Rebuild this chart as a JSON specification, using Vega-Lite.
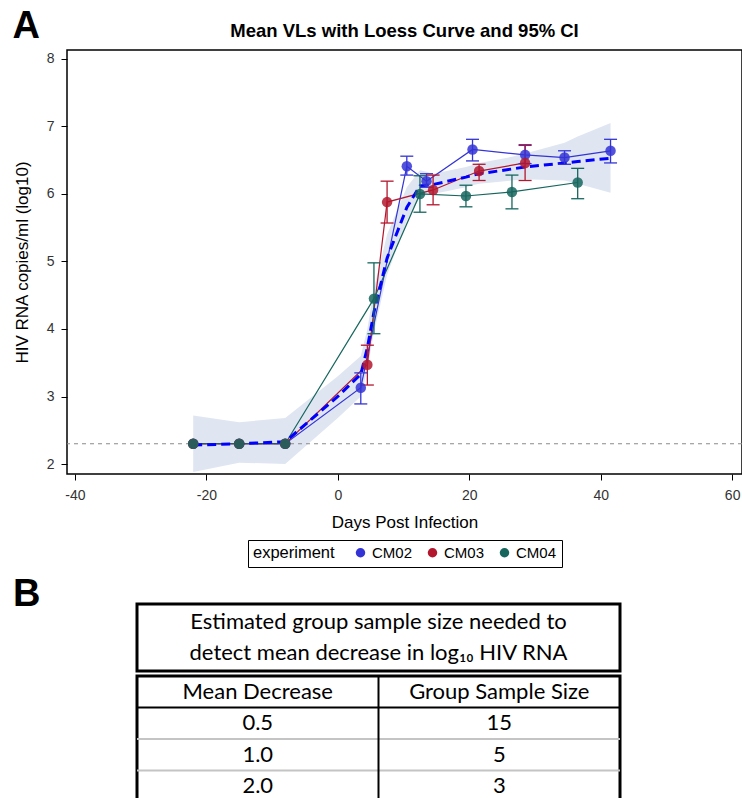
{
  "$schema": "https://vega.github.io/schema/vega-lite/v6.json",
  "padding": {"left": 12, "top": 7, "right": 0, "bottom": 0},
  "title": {"text": "A", "anchor": "start", "frame": "bounds", "fontSize": 38, "fontWeight": "bold", "font": "Liberation Sans", "baseline": "alphabetic", "offset": -55, "color": "black"},
  "datasets": {
    "series": [
      {"experiment": "CM02", "day": -22, "mean": 2.3},
      {"experiment": "CM02", "day": -15, "mean": 2.3},
      {"experiment": "CM02", "day": -8, "mean": 2.3},
      {"experiment": "CM02", "day": 3.5, "mean": 3.13, "lo": 2.89, "hi": 3.35},
      {"experiment": "CM02", "day": 10.5, "mean": 6.41, "lo": 6.28, "hi": 6.56},
      {"experiment": "CM02", "day": 13.5, "mean": 6.19, "lo": 6.1, "hi": 6.3},
      {"experiment": "CM02", "day": 20.5, "mean": 6.66, "lo": 6.49, "hi": 6.81},
      {"experiment": "CM02", "day": 28.5, "mean": 6.58, "lo": 6.45, "hi": 6.72},
      {"experiment": "CM02", "day": 34.5, "mean": 6.54, "lo": 6.44, "hi": 6.64},
      {"experiment": "CM02", "day": 41.5, "mean": 6.64, "lo": 6.46, "hi": 6.81},
      {"experiment": "CM03", "day": -22, "mean": 2.3},
      {"experiment": "CM03", "day": -15, "mean": 2.3},
      {"experiment": "CM03", "day": -8, "mean": 2.3},
      {"experiment": "CM03", "day": 4.5, "mean": 3.47, "lo": 3.17, "hi": 3.76},
      {"experiment": "CM03", "day": 7.5, "mean": 5.88, "lo": 5.57, "hi": 6.19},
      {"experiment": "CM03", "day": 14.5, "mean": 6.06, "lo": 5.84, "hi": 6.28},
      {"experiment": "CM03", "day": 21.5, "mean": 6.34, "lo": 6.2, "hi": 6.44},
      {"experiment": "CM03", "day": 28.5, "mean": 6.46, "lo": 6.2, "hi": 6.73},
      {"experiment": "CM04", "day": -22, "mean": 2.3},
      {"experiment": "CM04", "day": -15, "mean": 2.3},
      {"experiment": "CM04", "day": -8, "mean": 2.3},
      {"experiment": "CM04", "day": 5.5, "mean": 4.45, "lo": 3.93, "hi": 4.98},
      {"experiment": "CM04", "day": 12.5, "mean": 6.0, "lo": 5.73, "hi": 6.27},
      {"experiment": "CM04", "day": 19.5, "mean": 5.97, "lo": 5.81, "hi": 6.13},
      {"experiment": "CM04", "day": 26.5, "mean": 6.03, "lo": 5.78, "hi": 6.28},
      {"experiment": "CM04", "day": 36.5, "mean": 6.17, "lo": 5.93, "hi": 6.38}
    ],
    "loess": [
      {"day": -22, "fit": 2.28, "lo": 1.88, "hi": 2.72},
      {"day": -15, "fit": 2.3, "lo": 2.02, "hi": 2.62},
      {"day": -8, "fit": 2.33, "lo": 2.0, "hi": 2.68},
      {"day": 0, "fit": 3.0, "lo": 2.68, "hi": 3.3},
      {"day": 3.5, "fit": 3.33, "lo": 3.0, "hi": 3.6},
      {"day": 4.5, "fit": 3.72, "lo": 3.4, "hi": 4.0},
      {"day": 5.5, "fit": 4.25, "lo": 3.95, "hi": 4.6},
      {"day": 7.5, "fit": 5.05, "lo": 4.8, "hi": 5.4},
      {"day": 10.5, "fit": 5.8, "lo": 5.6, "hi": 6.1},
      {"day": 12.5, "fit": 6.12, "lo": 5.95, "hi": 6.35},
      {"day": 13.5, "fit": 6.13, "lo": 5.98, "hi": 6.33},
      {"day": 14.5, "fit": 6.14, "lo": 6.0, "hi": 6.3},
      {"day": 19.5, "fit": 6.25, "lo": 6.1, "hi": 6.4},
      {"day": 20.5, "fit": 6.28, "lo": 6.13, "hi": 6.43},
      {"day": 21.5, "fit": 6.3, "lo": 6.15, "hi": 6.46},
      {"day": 26.5, "fit": 6.37, "lo": 6.2, "hi": 6.55},
      {"day": 28.5, "fit": 6.4, "lo": 6.22, "hi": 6.6},
      {"day": 34.5, "fit": 6.46, "lo": 6.2, "hi": 6.76},
      {"day": 36.5, "fit": 6.48, "lo": 6.15, "hi": 6.85},
      {"day": 41.5, "fit": 6.53, "lo": 6.02, "hi": 7.05}
    ],
    "table": [
      {"row": "r0", "col": "c1", "text": "Mean Decrease"},
      {"row": "r0", "col": "c2", "text": "Group Sample Size"},
      {"row": "r1", "col": "c1", "text": "0.5"},
      {"row": "r1", "col": "c2", "text": "15"},
      {"row": "r2", "col": "c1", "text": "1.0"},
      {"row": "r2", "col": "c2", "text": "5"},
      {"row": "r3", "col": "c1", "text": "2.0"},
      {"row": "r3", "col": "c2", "text": "3"}
    ],
    "heading": [
      {"line": 1, "text": "Estimated group sample size needed to"},
      {"line": 2, "text": "detect mean decrease in log₁₀ HIV RNA"}
    ]
  },
  "spacing": 7,
  "resolve": {"scale": {"color": "independent"}, "legend": {"color": "independent"}},
  "vconcat": [
    {
      "width": 675,
      "height": 424,
      "view": {"stroke": "black", "strokeWidth": 1.5},
      "title": {"text": "Mean VLs with Loess Curve and 95% CI", "fontSize": 18.5, "fontWeight": "bold", "font": "Liberation Sans", "offset": 10, "anchor": "middle", "frame": "group", "color": "black"},
      "layer": [
        {
          "data": {"name": "loess"},
          "mark": {"type": "area", "color": "#dfe6f2", "opacity": 1},
          "encoding": {
            "x": {"field": "day", "type": "quantitative", "scale": {"domain": [-41.2, 61.5], "nice": false, "zero": false}, "axis": {"values": [-40, -20, 0, 20, 40, 60], "labelExpr": "'' + datum.value", "title": "Days Post Infection"}},
            "y": {"field": "lo", "type": "quantitative", "scale": {"domain": [1.852, 8.133], "nice": false, "zero": false}, "axis": {"values": [2, 3, 4, 5, 6, 7, 8], "labelExpr": "'' + datum.value", "title": "HIV RNA copies/ml (log10)"}},
            "y2": {"field": "hi"}
          }
        },
        {
          "data": {"values": [{"lod": 2.3}]},
          "mark": {"type": "rule", "color": "#8a8a8a", "strokeWidth": 1, "strokeDash": [4, 4]},
          "encoding": {
            "y": {"field": "lod", "type": "quantitative", "scale": {"domain": [1.852, 8.133], "nice": false, "zero": false}}
          }
        },
        {
          "data": {"name": "series"},
          "mark": {"type": "line", "strokeWidth": 1.2},
          "encoding": {
            "x": {"field": "day", "type": "quantitative", "scale": {"domain": [-41.2, 61.5], "nice": false, "zero": false}},
            "y": {"field": "mean", "type": "quantitative", "scale": {"domain": [1.852, 8.133], "nice": false, "zero": false}},
            "color": {"field": "experiment", "type": "nominal", "scale": {"domain": ["CM02", "CM03", "CM04"], "range": ["#3434d6", "#b3172e", "#16665e"]}}
          }
        },
        {
          "data": {"name": "loess"},
          "mark": {"type": "line", "color": "#0000ff", "strokeWidth": 3, "strokeDash": [9, 5]},
          "encoding": {
            "x": {"field": "day", "type": "quantitative", "scale": {"domain": [-41.2, 61.5], "nice": false, "zero": false}},
            "y": {"field": "fit", "type": "quantitative", "scale": {"domain": [1.852, 8.133], "nice": false, "zero": false}}
          }
        },
        {
          "data": {"name": "series"},
          "transform": [{"filter": "isValid(datum.lo)"}],
          "mark": {"type": "rule", "strokeWidth": 1.3},
          "encoding": {
            "x": {"field": "day", "type": "quantitative", "scale": {"domain": [-41.2, 61.5], "nice": false, "zero": false}},
            "y": {"field": "lo", "type": "quantitative", "scale": {"domain": [1.852, 8.133], "nice": false, "zero": false}},
            "y2": {"field": "hi"},
            "color": {"field": "experiment", "type": "nominal"}
          }
        },
        {
          "data": {"name": "series"},
          "transform": [{"filter": "isValid(datum.lo)"}],
          "mark": {"type": "tick", "orient": "horizontal", "size": 13, "thickness": 1.3, "opacity": 1},
          "encoding": {
            "x": {"field": "day", "type": "quantitative", "scale": {"domain": [-41.2, 61.5], "nice": false, "zero": false}},
            "y": {"field": "lo", "type": "quantitative", "scale": {"domain": [1.852, 8.133], "nice": false, "zero": false}},
            "color": {"field": "experiment", "type": "nominal"}
          }
        },
        {
          "data": {"name": "series"},
          "transform": [{"filter": "isValid(datum.hi)"}],
          "mark": {"type": "tick", "orient": "horizontal", "size": 13, "thickness": 1.3, "opacity": 1},
          "encoding": {
            "x": {"field": "day", "type": "quantitative", "scale": {"domain": [-41.2, 61.5], "nice": false, "zero": false}},
            "y": {"field": "hi", "type": "quantitative", "scale": {"domain": [1.852, 8.133], "nice": false, "zero": false}},
            "color": {"field": "experiment", "type": "nominal"}
          }
        },
        {
          "data": {"name": "series"},
          "mark": {"type": "circle", "size": 110, "opacity": 0.85},
          "encoding": {
            "x": {"field": "day", "type": "quantitative", "scale": {"domain": [-41.2, 61.5], "nice": false, "zero": false}},
            "y": {"field": "mean", "type": "quantitative", "scale": {"domain": [1.852, 8.133], "nice": false, "zero": false}},
            "color": {"field": "experiment", "type": "nominal", "title": "experiment", "legend": {"orient": "bottom", "direction": "horizontal", "titleOrient": "left", "symbolType": "circle", "symbolOpacity": 1, "symbolStrokeWidth": 0}}
          }
        }
      ]
    },
    {
      "spacing": 0,
      "hconcat": [
        {
          "width": 67,
          "height": 10,
          "view": {"stroke": null},
          "title": {"text": "B", "anchor": "start", "frame": "group", "dx": -54, "fontSize": 38, "fontWeight": "bold", "font": "Liberation Sans", "baseline": "alphabetic", "offset": -40, "color": "black"},
          "data": {"values": []},
          "mark": "point"
        },
        {
          "spacing": 0,
          "vconcat": [
            {
              "width": 483,
              "height": 67,
              "view": {"stroke": "black", "strokeWidth": 3},
              "data": {"name": "heading"},
              "mark": {"type": "text", "font": "Lato", "fontSize": 22, "color": "black"},
              "encoding": {
                "y": {"field": "line", "type": "ordinal", "axis": null, "scale": {"type": "band", "paddingInner": 0, "paddingOuter": 0.08}, "bandPosition": 0.5},
                "text": {"field": "text"}
              }
            },
            {
              "width": 483,
              "height": 126,
              "view": {"stroke": "black", "strokeWidth": 3},
              "data": {"name": "table"},
              "layer": [
                {
                  "transform": [{"filter": "datum.col === 'c1' && datum.row !== 'r0'"}],
                  "mark": {"type": "rule", "strokeWidth": 2},
                  "encoding": {
                    "y": {"field": "row", "type": "nominal", "axis": null, "bandPosition": 0, "scale": {"type": "band", "paddingInner": 0, "paddingOuter": 0}},
                    "color": {"condition": {"test": "datum.row === 'r1'", "value": "black"}, "value": "#c4c4c4"}
                  }
                },
                {
                  "transform": [{"filter": "datum.col === 'c2' && datum.row === 'r0'"}],
                  "mark": {"type": "rule", "strokeWidth": 2, "color": "black"},
                  "encoding": {
                    "x": {"field": "col", "type": "nominal", "axis": null, "bandPosition": 0, "scale": {"type": "band", "paddingInner": 0, "paddingOuter": 0}}
                  }
                },
                {
                  "mark": {"type": "text", "font": "Lato", "fontSize": 22, "color": "black"},
                  "encoding": {
                    "x": {"field": "col", "type": "nominal", "axis": null, "bandPosition": 0.5, "scale": {"type": "band", "paddingInner": 0, "paddingOuter": 0}},
                    "y": {"field": "row", "type": "nominal", "axis": null, "bandPosition": 0.5, "scale": {"type": "band", "paddingInner": 0, "paddingOuter": 0}},
                    "text": {"field": "text"}
                  }
                }
              ]
            }
          ]
        }
      ]
    }
  ],
  "config": {
    "font": "Liberation Sans",
    "axis": {"grid": false, "domain": false, "tickColor": "black", "tickSize": 6, "tickWidth": 1, "labelFontSize": 14, "labelColor": "#333333", "labelPadding": 7, "titleFontSize": 17, "titleFontWeight": "normal", "titleColor": "black"},
    "axisX": {"labelPadding": 8, "titlePadding": 12},
    "axisY": {"titlePadding": 15},
    "legend": {"strokeColor": "black", "strokeWidth": 1, "padding": 5, "titleFontSize": 16.5, "titleFontWeight": "normal", "titleColor": "black", "labelFontSize": 15, "labelColor": "black", "symbolSize": 90, "columnPadding": 12, "titlePadding": 18, "offset": 10, "layout": {"bottom": {"anchor": "middle"}}}
  }
}
